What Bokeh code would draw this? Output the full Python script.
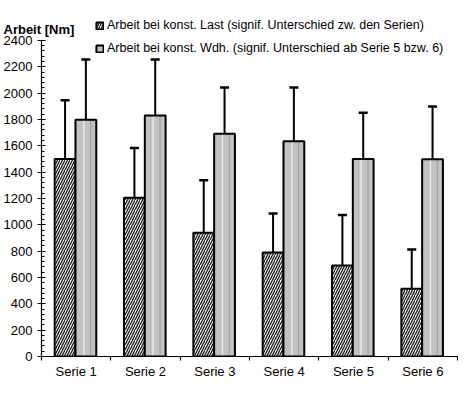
import numpy as np
from bokeh.plotting import figure
from bokeh.models import (ColumnDataSource, Range1d, FixedTicker, Whisker, TeeHead,
                          Legend, LegendItem, Label)
from bokeh.transform import dodge
from bokeh.embed import file_html
from bokeh.resources import INLINE

series = ["Serie 1", "Serie 2", "Serie 3", "Serie 4", "Serie 5", "Serie 6"]
last_mean = [1500, 1205, 940, 790, 690, 515]
last_err_top = [1945, 1583, 1338, 1085, 1075, 812]
wdh_mean = [1797, 1830, 1692, 1635, 1500, 1497]
wdh_err_top = [2255, 2255, 2042, 2042, 1851, 1898]
y_ticks = list(range(0, 2401, 200))
label_last = "Arbeit bei konst. Last (signif. Unterschied zw. den Serien)"
label_wdh = "Arbeit bei konst. Wdh. (signif. Unterschied ab Serie 5 bzw. 6)"
y_title = "Arbeit [Nm]"

FONT = "Liberation Sans"

pos = list(np.arange(len(series)) + 0.5)
src = ColumnDataSource(dict(
    x=pos, last=last_mean, last_top=last_err_top,
    wdh=wdh_mean, wdh_top=wdh_err_top,
))

p = figure(width=458, height=381, output_backend="svg", toolbar_location=None,
           x_range=Range1d(0, len(series)), y_range=Range1d(0, 2589),
           min_border_left=40, min_border_right=1, min_border_top=0, min_border_bottom=20)
p.outline_line_color = None
p.xgrid.visible = False
p.ygrid.visible = False
p.background_fill_color = "white"
p.border_fill_color = "white"

OFF_L, OFF_W, W = -0.16, 0.14, 0.3

r_last = p.vbar(x=dodge("x", OFF_L, range=p.x_range), top="last", width=W, bottom=0,
                source=src, fill_color="white", hatch_pattern="right_diagonal_line",
                hatch_color="#222222", hatch_scale=5, hatch_weight=1.4,
                line_color="black", line_width=2)
r_wdh = p.vbar(x=dodge("x", OFF_W, range=p.x_range), top="wdh", width=W, bottom=0,
               source=src, fill_color="#c2c2c2", line_color=None)
p.vbar(x=dodge("x", OFF_W - 0.03, range=p.x_range), top="wdh", width=0.02, bottom=0,
       source=src, fill_color="#ececec", line_color=None)
p.vbar(x=dodge("x", OFF_W + 0.07, range=p.x_range), top="wdh", width=0.02, bottom=0,
       source=src, fill_color="#a4a4a4", line_color=None)
r_wdh_outline = p.vbar(x=dodge("x", OFF_W, range=p.x_range), top="wdh", width=W, bottom=0,
                       source=src, fill_color=None, line_color="black", line_width=2)

for off, lo, hi in [(OFF_L, "last", "last_top"), (OFF_W, "wdh", "wdh_top")]:
    wk = Whisker(base=dodge("x", off, range=p.x_range), lower=lo, upper=hi, source=src,
                 dimension="height", line_color="black", line_width=2,
                 lower_head=None,
                 upper_head=TeeHead(size=9, line_color="black", line_width=2.5))
    p.add_layout(wk)

ya = p.yaxis[0]
ya.ticker = FixedTicker(ticks=y_ticks, minor_ticks=list(range(0, 2401, 40)))
ya.bounds = (0, 2400)
ya.axis_line_color = "black"
ya.axis_line_width = 1.2
ya.major_tick_in = 4
ya.major_tick_out = 4
ya.minor_tick_in = 3
ya.minor_tick_out = 0
ya.major_tick_line_width = 1.2
ya.minor_tick_line_width = 1.2
ya.major_label_text_font = FONT
ya.major_label_text_font_size = "13px"
ya.major_label_text_color = "black"
ya.major_label_standoff = 5

xa = p.xaxis[0]
xa.ticker = FixedTicker(ticks=pos, minor_ticks=list(range(0, len(series) + 1)))
xa.major_label_overrides = {float(v): s for v, s in zip(pos, series)}
xa.major_tick_in = 0
xa.major_tick_out = 0
xa.minor_tick_in = 0
xa.minor_tick_out = 4
xa.minor_tick_line_width = 1.2
xa.axis_line_color = "black"
xa.axis_line_width = 1.2
xa.major_label_text_font = FONT
xa.major_label_text_font_size = "13px"
xa.major_label_text_color = "black"
xa.major_label_standoff = 3

legend = Legend(items=[LegendItem(label=label_last, renderers=[r_last]),
                       LegendItem(label=label_wdh, renderers=[r_wdh, r_wdh_outline])],
                location=(54, 301), orientation="vertical")
legend.glyph_width = 9
legend.glyph_height = 9
legend.label_height = 14
legend.spacing = 9
legend.padding = 0
legend.margin = 0
legend.label_standoff = 3
legend.border_line_color = None
legend.background_fill_alpha = 0
legend.label_text_font = FONT
legend.label_text_font_size = "12.5px"
legend.label_text_color = "black"
p.add_layout(legend)

p.add_layout(Label(x=-38, y=-14, x_units="screen", y_units="screen", text=y_title,
                   text_font=FONT, text_font_size="13px", text_font_style="bold",
                   text_baseline="middle", text_color="black"), "above")

open("out.html", "w").write(file_html(p, INLINE))
